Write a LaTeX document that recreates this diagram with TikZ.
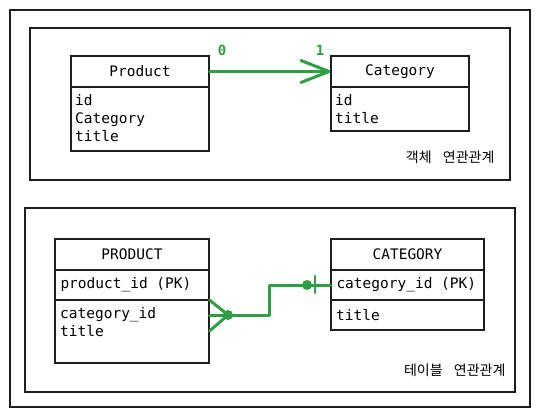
\documentclass[tikz,border=0pt]{standalone}
\usepackage{fontspec}
\setmonofont{DejaVu Sans Mono}
\newfontfamily\kofont{Noto Sans CJK KR}
\usetikzlibrary{arrows.meta}
\definecolor{vert}{HTML}{2F9E44}
\definecolor{encre}{HTML}{1E1E1E}

\begin{document}
\begin{tikzpicture}[x=1pt, y=-1pt]
	\tikzset{cadre/.style={draw=encre, line width=1.3pt},
		boite/.style={draw=encre, line width=1.1pt, inner sep=0pt, font=\ttfamily\fontsize{14.5}{18}\selectfont},
		entete/.style={boite, minimum width=#1, minimum height=31},
		corps/.style={draw=encre, line width=1.1pt, inner sep=0pt, minimum width=#1},
		cle/.style={boite, minimum height=30, text width=#1, align=left, inner xsep=5.5pt},
		champs/.style={anchor=north west, align=left, inner xsep=#1, inner ysep=7.5pt, font=\ttfamily\fontsize{14.5}{18}\selectfont},
		lien/.style={vert, line width=3pt, line cap=round, line join=round},
		card/.style={vert, font=\ttfamily\bfseries\fontsize{14}{16}\selectfont},
		legende/.style={anchor=east, font=\kofont\fontsize{14}{16}\selectfont}};

	\useasboundingbox (0,0) rectangle (540,417);
	\draw[cadre] (10,10) rectangle (530,407);
	\draw[cadre] (30,28) rectangle (510,180);
	\draw[cadre] (25,208) rectangle (515,392);

	% objets
	\node[entete=138] (prodH) at (140, 71.5) {Product};
	\node[corps=138, minimum height=64] (prodB) at (140, 119) {};
	\node[champs=4.5pt] (prodF) at (prodB.north west) {id\\Category\\title};
	\node[entete=138] (catH) at (400, 71.5) {Category};
	\node[corps=138, minimum height=44] (catB) at (400, 109) {};
	\node[champs=4.5pt] (catF) at (catB.north west) {id\\title};

	\node[card] (zero) at (222, 50) {0};
	\node[card] (un)   at (320, 50) {1};
	\draw[lien, -{Straight Barb[length=28pt, width=22pt, line width=3pt, round]}] (prodH) -- (catH);

	\node[legende] (objLeg) at (498, 157) {객체\hspace{0.8em}연관관계};

	% tables
	\node[entete=154] (PH) at (132, 254.5) {PRODUCT};
	\node[cle=143] (PK) at (132, 285) {product\_id\hspace{0.6em}(PK)};
	\node[corps=154, minimum height=63] (PB) at (132, 331.5) {};
	\node[champs=5.5pt] (PF) at (PB.north west) {category\_id\\title};
	\node[entete=153] (CH) at (407.5, 254.5) {CATEGORY};
	\node[cle=142] (CK) at (407.5, 285) {category\_id\hspace{0.6em}(PK)};
	\node[corps=153, minimum height=30] (CB) at (407.5, 315) {};
	\node[champs=5.5pt, inner ysep=0pt, anchor=west] (CF) at (CB.west) {title};

	\coordinate (fk) at (PB.east |- 0,315);
	\coordinate (patte) at (228, 315);
	\coordinate (point) at (307, 285);
	\draw[lien] (fk) -- (patte) -| (269, 285) -- (CK.west);
	\draw[lien] (PB.east |- 0,300) -- (patte) -- (PB.east |- 0,331);
	\fill[vert] (patte) circle (5);
	\fill[vert] (point) circle (5);
	\draw[lien, line width=2.5pt] (315, 276) -- (315, 293);

	\node[legende] (tabLeg) at (509, 370) {테이블\hspace{0.8em}연관관계};
\end{tikzpicture}
\end{document}
